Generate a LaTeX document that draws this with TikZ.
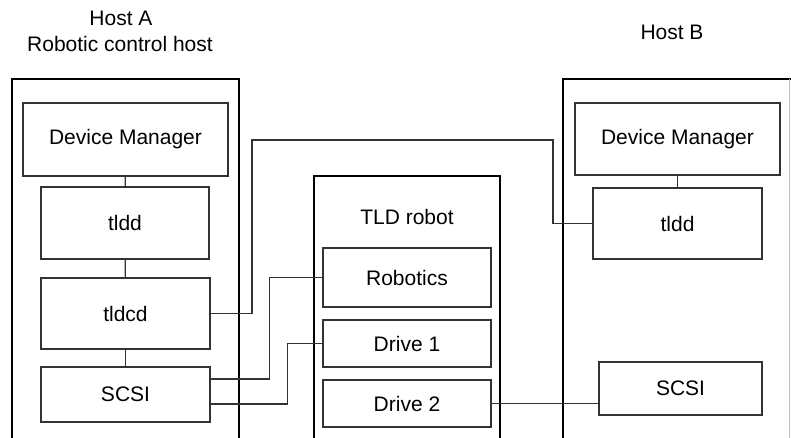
\documentclass[tikz,border=0pt]{standalone}
\usepackage{fontspec}
\setmainfont{Liberation Sans}
\begin{document}
\begin{tikzpicture}[x=1pt,y=-1pt,
  inbox/.style={draw=black!80, line width=1.2pt, inner sep=0pt, font=\fontsize{21}{24}\selectfont},
  lbl/.style={inner sep=0pt, font=\fontsize{21}{24}\selectfont},
  wire/.style={draw=black!80, line width=1.2pt},
  frame/.style={draw=black, line width=1.7pt}]
\useasboundingbox (0,0) rectangle (791,438);
% outer frames
\draw[frame] (12,438) -- (12,79) -- (239,79) -- (239,438);
\draw[frame] (314,438) -- (314,176) -- (500,176) -- (500,438);
\draw[frame] (563,438) -- (563,79) -- (791,79);
\draw[draw=black!25, line width=1pt] (789,79) -- (789,438);
% labels
\node[lbl] (hosta) at (121,18) {Host A};
\node[lbl] (hostarole) at (120,44) {Robotic control host};
\node[lbl] (hostb) at (672,32) {Host B};
\node[lbl] (tldlbl) at (407,217) {TLD robot};
% Host A
\node[inbox, minimum width=205, minimum height=73] (dma) at (125.5,139.5) {Device Manager};
\node[inbox, minimum width=168, minimum height=72] (tldda) at (125,223) {tldd};
\node[inbox, minimum width=169, minimum height=71] (tldcd) at (125.5,313.5) {tldcd};
\node[inbox, minimum width=169, minimum height=55] (scsia) at (125.5,394.5) {SCSI};
% TLD robot
\node[inbox, minimum width=168, minimum height=59] (robotics) at (407,277.5) {Robotics};
\node[inbox, minimum width=168, minimum height=47] (drive1) at (407,343.5) {Drive 1};
\node[inbox, minimum width=168, minimum height=47] (drive2) at (407,403.5) {Drive 2};
% Host B
\node[inbox, minimum width=205, minimum height=72] (dmb) at (677.5,139) {Device Manager};
\node[inbox, minimum width=169, minimum height=71] (tlddb) at (677.5,223.5) {tldd};
\node[inbox, minimum width=163, minimum height=53] (scsib) at (680.5,388.5) {SCSI};
% connectors
\draw[wire] (dma) -- (tldda);
\draw[wire] (tldda) -- (tldcd);
\draw[wire] (tldcd) -- (scsia);
\draw[wire] (dmb.south -| tlddb.north) -- (tlddb.north);
\draw[wire] (tldcd.east) -- (252,313.5) |- (553,140) |- (tlddb.west);
\draw[wire] ([yshift=15.5pt]scsia.east) -- ++(59,0) |- (robotics.west);
\draw[wire] ([yshift=-9.5pt]scsia.east) -- ++(77,0) |- (drive1.west);
\draw[wire] (drive2.east) -- (drive2.east -| scsib.west);
\end{tikzpicture}
\end{document}
